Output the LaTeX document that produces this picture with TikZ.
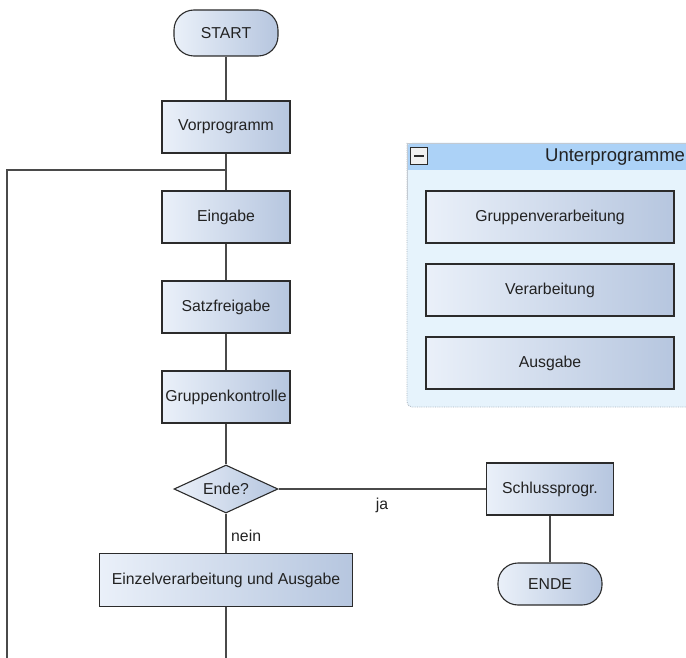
\documentclass[tikz,border=0pt]{standalone}
\usepackage{fontspec}
\setmainfont{Liberation Sans}
\usetikzlibrary{shapes.geometric}
\definecolor{boxL}{HTML}{EAF0F9}
\definecolor{boxR}{HTML}{B6C6DF}
\definecolor{edge}{HTML}{2B2B2B}
\definecolor{wire}{HTML}{4A4A4A}
\definecolor{txt}{HTML}{222222}
\definecolor{panel}{HTML}{E6F3FC}
\definecolor{panelHead}{HTML}{ACD2F7}
\definecolor{panelEdge}{HTML}{A9B4BE}
\begin{document}
\begin{tikzpicture}[x=1pt,y=-1pt,
  every node/.style={font=\fontsize{15.8}{18}\selectfont, text=txt},
  procbox/.style={draw=edge, line width=1.1pt, left color=boxL, right color=boxR,
    minimum width=128pt, minimum height=52pt, inner sep=0pt},
  subbox/.style={procbox, minimum width=248pt, minimum height=52pt},
  termbox/.style={draw=edge, line width=1.1pt, left color=boxL, right color=boxR,
    rounded corners=20pt, minimum width=104pt, inner sep=0pt},
  decbox/.style={diamond, draw=edge, line width=1.1pt, left color=boxL, right color=boxR,
    minimum width=104pt, minimum height=48pt, aspect=2.17, inner sep=0pt},
  flow/.style={draw=wire, line width=1.4pt},
  lbl/.style={font=\fontsize{15.8}{18}\selectfont, inner sep=0pt}
]
\useasboundingbox (0,0) rectangle (686,658);
\clip (0,0) rectangle (686,658);

% main column
\node[termbox, minimum height=46pt] (start) at (226,33) {START};
\node[procbox] (vor) at (226,127) {Vorprogramm};
\node[procbox] (ein) at (226,217) {Eingabe};
\node[procbox] (satz) at (226,307) {Satzfreigabe};
\node[procbox] (grk) at (226,397) {Gruppenkontrolle};
\node[decbox] (dec) at (226,489) {Ende?};
\node[procbox, minimum width=253pt, minimum height=53pt] (einz) at (226,580) {Einzelverarbeitung und Ausgabe};
\node[procbox, minimum width=127pt] (schl) at (550,489) {Schlussprogr.};
\node[termbox, minimum height=42pt] (ende) at (550,584) {ENDE};

% loop-back points
\coordinate (join) at (226,170);
\coordinate (bot) at (226,680);
\coordinate (botL) at (7,680);
\coordinate (topL) at (7,170);

% connectors
\draw[flow] (start.south) -- (vor.north);
\draw[flow] (vor.south) -- (ein.north);
\draw[flow] (ein.south) -- (satz.north);
\draw[flow] (satz.south) -- (grk.north);
\draw[flow] (grk.south) -- (dec.north);
\draw[flow] (dec.east) -- (schl.west);
\draw[flow] (dec.south) -- (einz.north);
\draw[flow] (schl.south) -- (ende.north);
\draw[flow] (einz.south) -- (bot) -- (botL) -- (topL) -- (join);

\node[lbl] (ja) at (382,505) {ja};
\node[lbl, anchor=west] (nein) at (231,536) {nein};

% sub-program panel
\fill[panel] (407,143) [rounded corners=5pt] -- (407,407) -- (700,407) [sharp corners] -- (700,143) [rounded corners=5pt] -- cycle;
\fill[panelHead] (407,170) [rounded corners=5pt] -- (407,143) [sharp corners] -- (700,143) -- (700,170) -- cycle;
\draw[panelEdge, line width=0.8pt, densely dotted] (407,143) [rounded corners=5pt] -- (407,407) -- (700,407);
\draw[panelEdge!70, line width=0.6pt] (700,143) -- (407,143) -- (407,200);
\node[draw=edge, line width=0.9pt, fill=white!88!gray, minimum size=17pt, inner sep=0pt] (fold) at (419,156) {};
\draw[edge, line width=2pt] ([xshift=-5pt]fold.center) -- ([xshift=5pt]fold.center);
\node[anchor=west, font=\fontsize{18.5}{20}\selectfont, inner sep=0pt] (ptitle) at (545,157) {Unterprogramme};

\node[subbox] (gv) at (550,217) {Gruppenverarbeitung};
\node[subbox] (vb) at (550,290) {Verarbeitung};
\node[subbox] (ag) at (550,363) {Ausgabe};
\end{tikzpicture}
\end{document}
